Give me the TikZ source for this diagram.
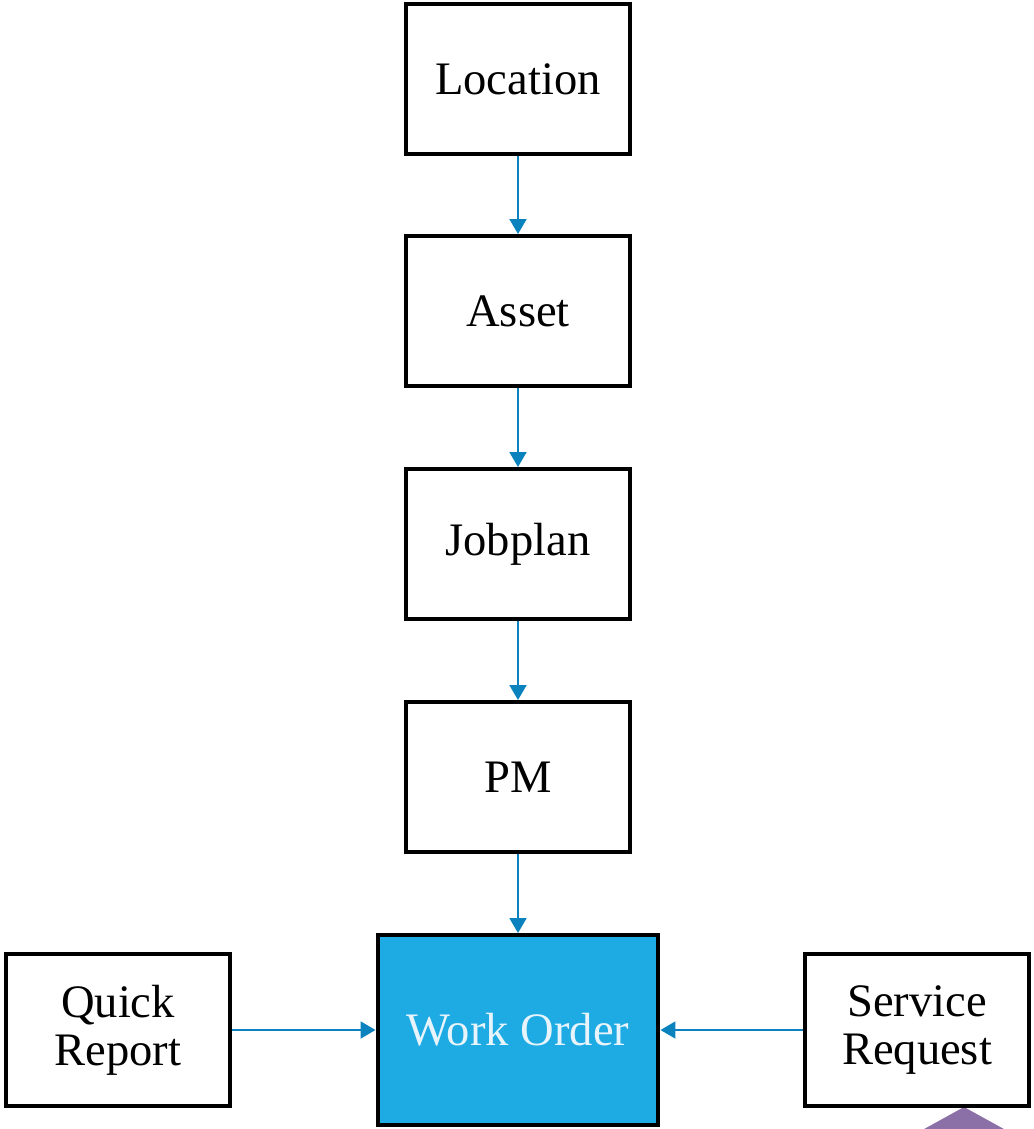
\documentclass[tikz,border=0pt]{standalone}
\usepackage{fontspec}
\setmainfont{Liberation Serif}
\usetikzlibrary{arrows.meta}
\definecolor{flowColor}{RGB}{10,130,190}
\definecolor{orderFill}{RGB}{30,171,227}
\definecolor{orderText}{RGB}{232,244,252}
\definecolor{logoColor}{RGB}{139,112,168}
\tikzstyle{pixels} = [x = .02cm, y = -.02cm]
\tikzstyle{boxStyle} = [draw=black, line width=.08cm, fill=white, minimum width=4.48cm, minimum height=3cm, align=center, inner sep=0pt, font=\fontsize{26.5}{27.5}\selectfont]
\tikzstyle{sideBoxStyle} = [boxStyle, minimum height=3.04cm]
\tikzstyle{orderStyle} = [boxStyle, fill=orderFill, text=orderText, minimum width=5.62cm, minimum height=3.8cm]
\tikzstyle{flowArrow} = [draw=flowColor, line width=.04cm, -{Triangle[width=.34cm, length=.3cm]}]
\begin{document}
\begin{tikzpicture}[pixels]
        \clip (0,0) rectangle (1034,1129);
        % logo corner
        \fill [logoColor] (964,1107) -- (1022,1139) -- (906,1139) -- cycle;

        \node [boxStyle] (location) at (518,79) {Location};
        \node [boxStyle] (asset) at (518,311) {Asset};
        \node [boxStyle] (jobplan) at (518,544) {Jobplan};
        \node [boxStyle] (pm) at (518,777) {PM};
        \node [orderStyle] (workOrder) at (518,1030) {Work Order};
        \node [sideBoxStyle] (quickReport) at (118,1030) {Quick\\Report};
        \node [sideBoxStyle] (serviceRequest) at (917,1030) {Service\\Request};

        \draw [flowArrow] (location) -- (asset);
        \draw [flowArrow] (asset) -- (jobplan);
        \draw [flowArrow] (jobplan) -- (pm);
        \draw [flowArrow] (pm) -- (workOrder);
        \draw [flowArrow] (quickReport) -- (workOrder);
        \draw [flowArrow] (serviceRequest) -- (workOrder);
      \end{tikzpicture}
\end{document}
